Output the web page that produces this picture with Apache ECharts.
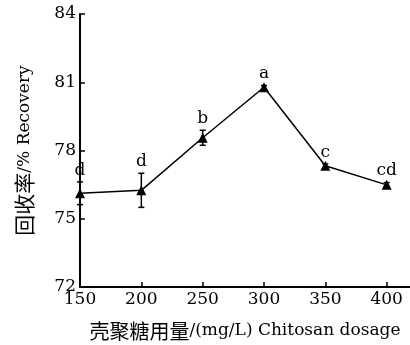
<!DOCTYPE html>
<html>
<head>
<meta charset="utf-8">
<script src="https://cdn.jsdelivr.net/npm/echarts@6/dist/echarts.min.js"></script>
<style>html,body{margin:0;padding:0;background:#fff;}#c{width:410px;height:345px;}</style>
</head>
<body>
<div id="c"></div>
<script>
const categories = [150, 200, 250, 300, 350, 400];
const recovery = [76.12, 76.25, 78.56, 80.78, 77.33, 76.49];
const errors = [0.5, 0.75, 0.33, 0.08, 0.08, 0.1];
const letters = ['d', 'd', 'b', 'a', 'c', 'cd'];
const yTicks = [72, 75, 78, 81, 84];

const SERIF = '"DejaVu Serif", "Liberation Serif", serif';
const CJK = '"Noto Sans CJK SC", sans-serif';

const lineData = categories.map((c, i) => [c, recovery[i]]);
const errData = categories.map((c, i) => [c, recovery[i], errors[i]]);

const chart = echarts.init(document.getElementById('c'));
chart.setOption({
  animation: false,
  backgroundColor: '#fff',
  grid: { left: 80, top: 14, right: 0, bottom: 58, outerBoundsMode: 'none' },
  xAxis: {
    type: 'value', min: 150, max: 419, interval: 50,
    splitLine: { show: false },
    axisLine: { lineStyle: { color: '#000', width: 2 } },
    axisTick: { inside: true, length: 5, lineStyle: { color: '#000', width: 1.5 }, customValues: categories },
    axisLabel: { color: '#000', fontFamily: SERIF, fontSize: 17, margin: 4, customValues: categories },
    name: '{c|壳聚糖用量}{l|/(mg/L) Chitosan dosage}',
    nameLocation: 'middle', nameGap: 34,
    nameTextStyle: { rich: {
      c: { fontFamily: CJK, fontSize: 20, color: '#000' },
      l: { fontFamily: SERIF, fontSize: 17, color: '#000' }
    } }
  },
  yAxis: {
    type: 'value', min: 72, max: 84, interval: 3,
    splitLine: { show: false },
    axisLine: { show: true, lineStyle: { color: '#000', width: 2 } },
    axisTick: { show: true, inside: true, length: 5, lineStyle: { color: '#000', width: 1.5 }, customValues: yTicks },
    axisLabel: { color: '#000', fontFamily: SERIF, fontSize: 17, margin: 4, customValues: yTicks },
    name: '{c|回收率}{l|/% Recovery}',
    nameLocation: 'middle', nameGap: 45,
    nameTextStyle: { rich: {
      c: { fontFamily: CJK, fontSize: 21, color: '#000' },
      l: { fontFamily: SERIF, fontSize: 17, color: '#000' }
    } }
  },
  series: [
    {
      type: 'line', data: lineData,
      symbol: 'triangle', symbolSize: 10,
      lineStyle: { color: '#000', width: 1.5 },
      itemStyle: { color: '#000' },
      z: 3
    },
    {
      type: 'custom', data: errData, z: 4,
      renderItem: function (params, api) {
        const x = api.value(0), v = api.value(1), e = api.value(2);
        const top = api.coord([x, v + e]);
        const bot = api.coord([x, v - e]);
        const h = 3;
        const st = { stroke: '#000', lineWidth: 1.5 };
        return { type: 'group', children: [
          { type: 'line', shape: { x1: top[0], y1: top[1], x2: bot[0], y2: bot[1] }, style: st },
          { type: 'line', shape: { x1: top[0] - h, y1: top[1], x2: top[0] + h, y2: top[1] }, style: st },
          { type: 'line', shape: { x1: bot[0] - h, y1: bot[1], x2: bot[0] + h, y2: bot[1] }, style: st },
          { type: 'text', x: top[0], y: top[1] - 3, style: {
            text: letters[params.dataIndex], fill: '#000',
            font: '17px ' + SERIF, textAlign: 'center', textVerticalAlign: 'bottom'
          } }
        ] };
      }
    }
  ]
});
</script>
</body>
</html>
